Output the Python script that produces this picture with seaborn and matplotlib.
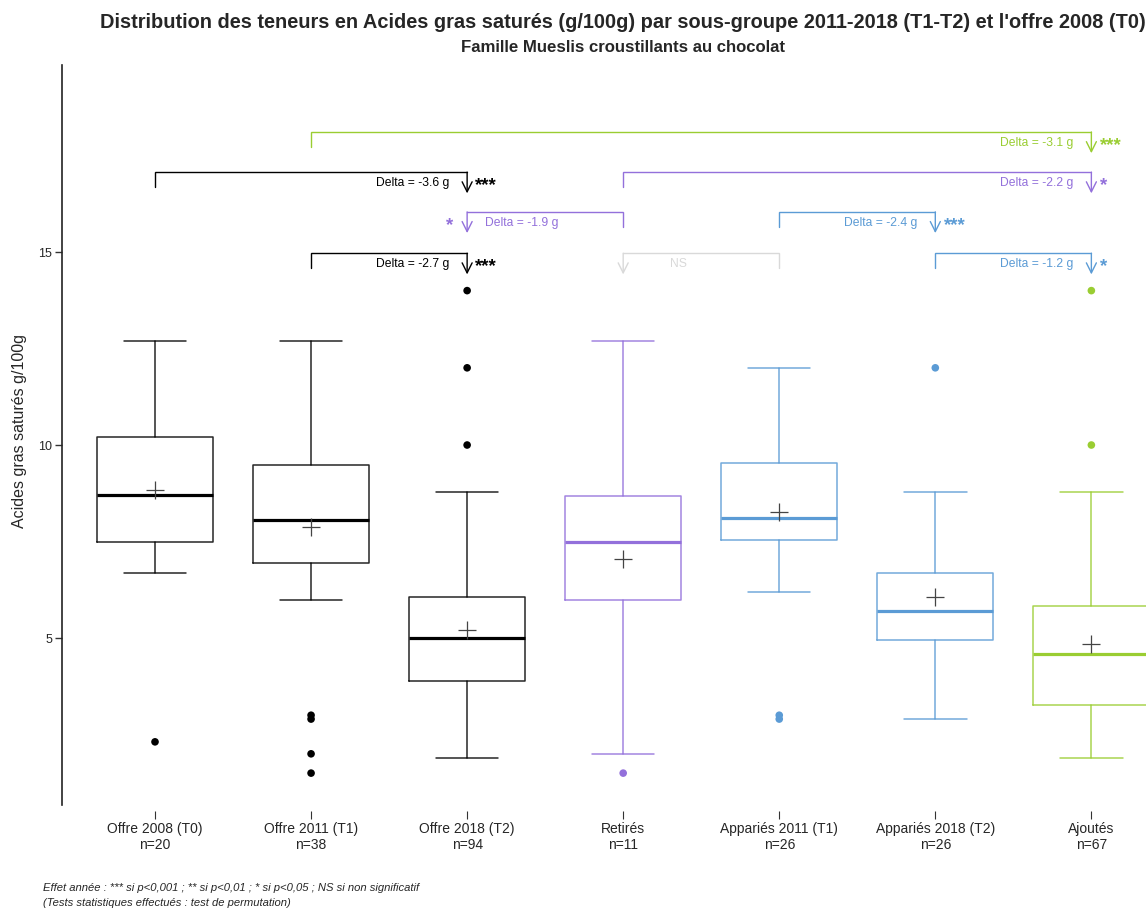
import numpy as np
import pandas as pd
import matplotlib.pyplot as plt
import seaborn as sns

# Groupes et effectifs
groupes = ["Offre 2008 (T0)", "Offre 2011 (T1)", "Offre 2018 (T2)", "Retirés",
           "Appariés 2011 (T1)", "Appariés 2018 (T2)", "Ajoutés"]
effectifs = [20, 38, 94, 11, 26, 26, 67]
couleurs = ["black", "black", "black", "#9370db", "#5b9bd5", "#5b9bd5", "#9acd32"]

# Statistiques des boites
moustache_bas = [6.68, 5.98, 1.90, 2.00, 6.19, 2.90, 1.90]
q1 = [7.49, 6.94, 3.89, 5.98, 7.54, 4.95, 3.26]
medianes = [8.70, 8.06, 5.00, 7.49, 8.11, 5.70, 4.59]
q3 = [10.21, 9.48, 6.06, 8.68, 9.53, 6.68, 5.83]
moustache_haut = [12.70, 12.70, 8.78, 12.70, 12.00, 8.78, 8.78]
moyennes = [8.83, 7.88, 5.21, 7.05, 8.26, 6.06, 4.84]
atypiques = [[2.31], [3.0, 2.9, 2.0, 1.5], [14.0, 12.0, 10.0], [1.5],
             [3.0, 2.9], [12.0], [14.0, 10.0]]

# Comparaisons (crochets) : depart -> arrivee (fleche sur l'arrivee)
comp_depart = [1, 0, 3, 3, 4, 1, 4, 5]
comp_arrivee = [6, 2, 6, 2, 5, 2, 3, 6]
comp_niveau = [0, 1, 1, 2, 2, 3, 3, 3]
comp_delta = ["Delta = -3.1 g", "Delta = -3.6 g", "Delta = -2.2 g", "Delta = -1.9 g",
              "Delta = -2.4 g", "Delta = -2.7 g", "NS", "Delta = -1.2 g"]
comp_signif = ["***", "***", "*", "*", "***", "***", "", "*"]
comp_couleur = ["#9acd32", "black", "#9370db", "#9370db", "#5b9bd5", "black",
                "#d9d9d9", "#5b9bd5"]

NIVEAUX_Y = [18.11, 17.07, 16.04, 14.97]

sns.set_style("ticks")
plt.rcParams['font.family'] = ['Liberation Sans', 'DejaVu Sans']

fig = plt.figure(figsize=(11.46, 9.13), dpi=100)
ax = fig.add_axes([62 / 1146, 108 / 913, 1123 / 1146, 740 / 913])

pos = np.arange(len(groupes))

# Boites
for i, g in enumerate(groupes):
    c = couleurs[i]
    stats = [{"med": medianes[i], "q1": q1[i], "q3": q3[i],
              "whislo": moustache_bas[i], "whishi": moustache_haut[i], "fliers": []}]
    ax.bxp(stats, positions=[i], widths=0.744, capwidths=0.4, showfliers=False,
           manage_ticks=False,
           boxprops=dict(color=c, lw=1.1, alpha=0.85),
           whiskerprops=dict(color=c, lw=1.1, alpha=0.85),
           capprops=dict(color=c, lw=1.1, alpha=0.85),
           medianprops=dict(color=c, lw=2.3))

# Valeurs atypiques
df_out = pd.DataFrame({
    "pos": [i for i, v in enumerate(atypiques) for _ in v],
    "valeur": [x for v in atypiques for x in v],
    "groupe": [groupes[i] for i, v in enumerate(atypiques) for _ in v],
})
sns.scatterplot(data=df_out, x="pos", y="valeur", hue="groupe",
                palette=dict(zip(groupes, couleurs)), s=30, edgecolor="none",
                legend=False, ax=ax, zorder=3)

# Moyennes
sns.scatterplot(x=pos, y=moyennes, marker="+", s=150, color="#444444",
                linewidth=0.9, legend=False, ax=ax, zorder=4)

# Crochets de comparaison
for k in range(len(comp_depart)):
    a, b = comp_depart[k], comp_arrivee[k]
    c = comp_couleur[k]
    y = NIVEAUX_Y[comp_niveau[k]]
    ax.plot([a, a, b], [y - 0.39, y, y], color=c, lw=1.0, solid_joinstyle="miter")
    ax.annotate("", xy=(b, y - 0.55), xytext=(b, y),
                arrowprops=dict(arrowstyle="->,head_length=0.6,head_width=0.3",
                                color=c, lw=1.0, shrinkA=0, shrinkB=0,
                                mutation_scale=12))
    ylab = y - 0.28
    if b > a:
        ax.annotate(comp_delta[k], xy=(b, ylab), xytext=(-13, 0),
                    textcoords="offset points", ha="right", va="center",
                    fontsize=8.7, color=c)
        ax.annotate(comp_signif[k], xy=(b, ylab), xytext=(6, -5),
                    textcoords="offset points", ha="left", va="baseline",
                    fontsize=13.5, fontweight="bold", color=c)
    else:
        dx = 34 if comp_delta[k] == "NS" else 13
        ax.annotate(comp_delta[k], xy=(b, ylab), xytext=(dx, 0),
                    textcoords="offset points", ha="left", va="center",
                    fontsize=8.7, color=c)
        ax.annotate(comp_signif[k], xy=(b, ylab), xytext=(-10, -5),
                    textcoords="offset points", ha="right", va="baseline",
                    fontsize=13.5, fontweight="bold", color=c)

# Axes
ax.set_xlim(-0.596, 6.6)
ax.set_ylim(0.674, 19.845)
ax.set_yticks([5, 10, 15])
ax.set_xticks(pos)
ax.set_xticklabels([f"{g}\nn={n}" for g, n in zip(groupes, effectifs)], fontsize=8.2)
ax.tick_params(axis="y", length=5, width=1, labelsize=9, pad=2, color="#333333")
ax.tick_params(axis="x", length=6, width=0.8, pad=2, color="#333333")
sns.despine(ax=ax)
ax.spines["bottom"].set_position(("outward", 4))
ax.spines["bottom"].set_visible(False)
ax.spines["left"].set_linewidth(1.2)
ax.spines["left"].set_color("#222222")
ax.set_xlabel("")
ax.set_ylabel("Acides gras saturés g/100g", fontsize=11.5)
ax.yaxis.set_label_coords(-0.031, 0.505)

# Titres
fig.text(623 / 1146, 1 - 23 / 913,
         "Distribution des teneurs en Acides gras saturés (g/100g) par sous-groupe "
         "2011-2018 (T1-T2) et l'offre 2008 (T0)",
         ha="center", va="center", fontsize=14.4, fontweight="bold")
fig.text(623 / 1146, 1 - 48 / 913, "Famille Mueslis croustillants au chocolat",
         ha="center", va="center", fontsize=12.1, fontweight="bold")

# Notes
fig.text(43 / 1146, 1 - 888 / 913,
         "Effet année : *** si p<0,001 ; ** si p<0,01 ; * si p<0,05 ; NS si non significatif",
         ha="left", va="center", fontsize=8.1, style="italic")
fig.text(43 / 1146, 1 - 903 / 913,
         "(Tests statistiques effectués : test de permutation)",
         ha="left", va="center", fontsize=8.1, style="italic")

fig.savefig("out.png", dpi=100)
